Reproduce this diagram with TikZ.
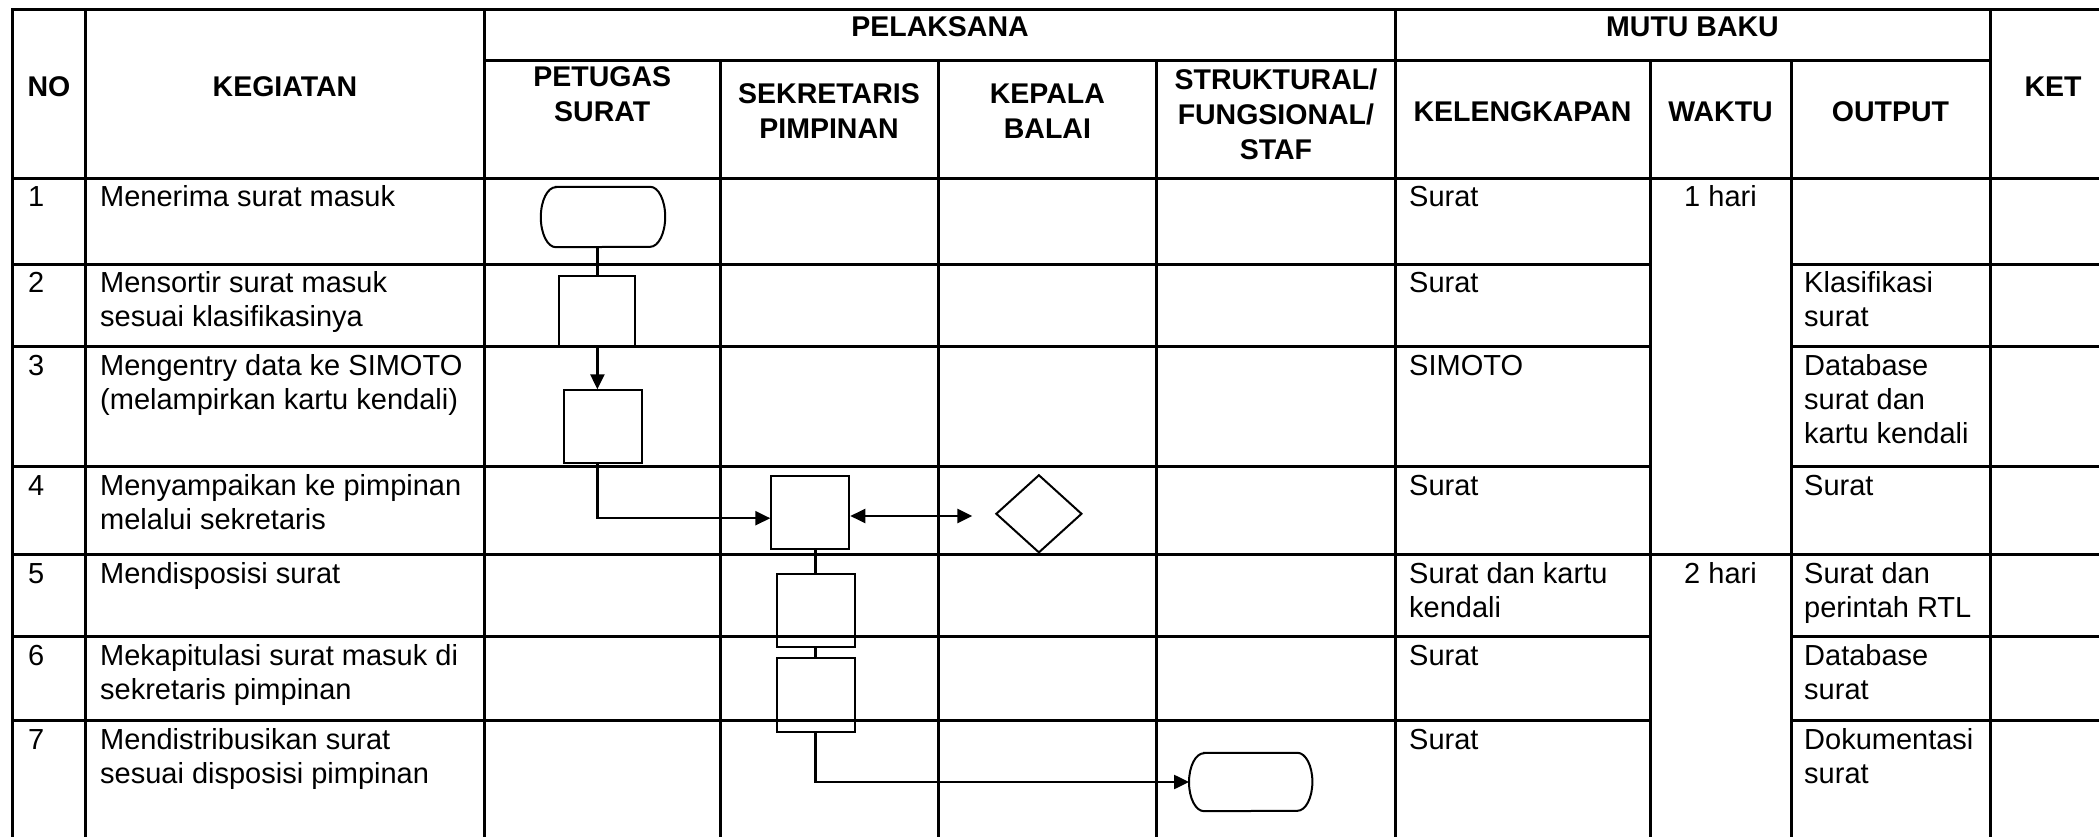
\documentclass[tikz,border=0pt]{standalone}
\usepackage{fontspec}
\setmainfont{Liberation Sans}
\usetikzlibrary{arrows.meta,shapes.geometric}
\newcommand\rowtxt[1]{\begin{tabular}[t]{@{}l@{}}#1\end{tabular}}
\newcommand\headtxt[1]{\begin{tabular}[t]{@{}c@{}}#1\end{tabular}}
\newcommand\drawterm[2]{%
  \draw[shapeline] ([xshift=15pt]#1.north west) -- ([xshift=-15pt]#1.north east)
    arc[start angle=90,end angle=-90,x radius=15pt,y radius=#2]
    -- ([xshift=15pt]#1.south west)
    arc[start angle=270,end angle=90,x radius=15pt,y radius=#2] -- cycle;}
\tikzset{
  grid/.style={line width=3pt, line cap=rect},
  shapeline/.style={line width=2pt},
  proc/.style={draw, shapeline, rectangle, minimum width=78pt, minimum height=73pt, inner sep=0pt},
  dec/.style={draw, shapeline, diamond, minimum width=86pt, minimum height=78pt, inner sep=0pt},
  term/.style={rectangle, inner sep=0pt},
  conn/.style={line width=2.5pt},
  arr/.style={conn, -{Triangle[length=15pt,width=14pt]}},
  darr/.style={conn, {Triangle[length=15pt,width=14pt]}-{Triangle[length=15pt,width=14pt]}},
  body/.style={font=\fontsize{29}{34}\selectfont, inner sep=0pt, anchor=base west},
  bodyc/.style={font=\fontsize{29}{34}\selectfont, inner sep=0pt, anchor=base},
  head/.style={font=\bfseries\fontsize{28.5}{35}\selectfont, inner sep=0pt, anchor=base},
}
\begin{document}
\begin{tikzpicture}[x=1pt,y=1pt]
\useasboundingbox (0,0) rectangle (2099,836);
\fill[white] (0,0) rectangle (2099,836);
% ---------- table grid ----------
\begin{scope}
\clip (0,0) rectangle (2099,836);
\draw[grid] (12.5,826) -- (2130,826);
\draw[grid] (484.4,775) -- (1990,775);
\draw[grid] (12.5,657.7) -- (2130,657.7);
\foreach \yy in {571.7,489,369.4,199.5,115.5} {
  \draw[grid] (12.5,\yy) -- (1650,\yy);
  \draw[grid] (1791,\yy) -- (2130,\yy);
}
\draw[grid] (12.5,281.4) -- (2130,281.4);
\foreach \xx in {12.5,85.7,484.4,1395,1990} \draw[grid] (\xx,826) -- (\xx,-10);
\foreach \xx in {720,938,1156.7,1650,1791} \draw[grid] (\xx,775) -- (\xx,-10);
\end{scope}
% ---------- headers ----------
\node[head] (hpel) at (940,799.3) {PELAKSANA};
\node[head] (hmutu) at (1692.5,799.3) {MUTU BAKU};
\node[head] (hno) at (49,739.3) {NO};
\node[head] (hkeg) at (285,739.3) {KEGIATAN};
\node[head] (hpet) at (602.2,749.3) {\headtxt{PETUGAS\\SURAT}};
\node[head] (hsek) at (829,732.7) {\headtxt{SEKRETARIS\\PIMPINAN}};
\node[head] (hkep) at (1047.4,732.7) {\headtxt{KEPALA\\BALAI}};
\node[head] (hstr) at (1275.9,746.5) {\headtxt{STRUKTURAL/\\FUNGSIONAL/\\STAF}};
\node[head] (hkel) at (1522.5,714.3) {KELENGKAPAN};
\node[head] (hwak) at (1720.5,714.3) {WAKTU};
\node[head] (hout) at (1890.5,714.3) {OUTPUT};
\node[head] (hket) at (2053,739.3) {KET};
% ---------- rows ----------
\node[body] (n1) at (28,629) {1};
\node[body] (k1) at (100,629) {Menerima surat masuk};
\node[body] (l1) at (1409,629) {Surat};
\node[bodyc] (w1) at (1720.5,629) {1 hari};

\node[body] (n2) at (28,543) {2};
\node[body] (k2) at (100,543) {\rowtxt{Mensortir surat masuk\\sesuai klasifikasinya}};
\node[body] (l2) at (1409,543) {Surat};
\node[body] (o2) at (1804,543) {\rowtxt{Klasifikasi\\surat}};

\node[body] (n3) at (28,460.3) {3};
\node[body] (k3) at (100,460.3) {\rowtxt{Mengentry data ke SIMOTO\\(melampirkan kartu kendali)}};
\node[body] (l3) at (1409,460.3) {SIMOTO};
\node[body] (o3) at (1804,460.3) {\rowtxt{Database\\surat dan\\kartu kendali}};

\node[body] (n4) at (28,340.7) {4};
\node[body] (k4) at (100,340.7) {\rowtxt{Menyampaikan ke pimpinan\\melalui sekretaris}};
\node[body] (l4) at (1409,340.7) {Surat};
\node[body] (o4) at (1804,340.7) {Surat};

\node[body] (n5) at (28,252.7) {5};
\node[body] (k5) at (100,252.7) {Mendisposisi surat};
\node[body] (l5) at (1409,252.7) {\rowtxt{Surat dan kartu\\kendali}};
\node[bodyc] (w5) at (1720.5,252.7) {2 hari};
\node[body] (o5) at (1804,252.7) {\rowtxt{Surat dan\\perintah RTL}};

\node[body] (n6) at (28,170.8) {6};
\node[body] (k6) at (100,170.8) {\rowtxt{Mekapitulasi surat masuk di\\sekretaris pimpinan}};
\node[body] (l6) at (1409,170.8) {Surat};
\node[body] (o6) at (1804,170.8) {\rowtxt{Database\\surat}};

\node[body] (n7) at (28,86.8) {7};
\node[body] (k7) at (100,86.8) {\rowtxt{Mendistribusikan surat\\sesuai disposisi pimpinan}};
\node[body] (l7) at (1409,86.8) {Surat};
\node[body] (o7) at (1804,86.8) {\rowtxt{Dokumentasi\\surat}};
% ---------- flow shapes ----------
\node[term, minimum width=124pt, minimum height=60pt] (t1) at (603,619) {};
\drawterm{t1}{30pt}
\node[proc, minimum width=76pt, minimum height=71pt] (b2) at (597.4,524.5) {};
\node[proc] (b3) at (602.7,409.2) {};
\node[proc] (b4) at (810.3,323.8) {};
\node[dec] (d4) at (1038.9,322.2) {};
\node[proc] (b5) at (815.7,225.3) {};
\node[proc, minimum height=74pt] (b6) at (815.7,141.5) {};
\node[term, minimum width=123pt, minimum height=58pt] (t2) at (1250.7,54) {};
\drawterm{t2}{29pt}
% ---------- connectors ----------
\coordinate (dtip) at (972.3,320);
\draw[conn] (b2.north |- t1.south) -- (b2.north);
\draw[arr] (b2.south) -- (b2.south |- b3.north);
\draw[arr] (b3.south -| b2.south) |- ([yshift=-6pt]b4.west);
\draw[darr] (b4.east |- dtip) -- (dtip);
\draw[conn] (b4.south -| b5.north) -- (b5.north);
\draw[conn] (b5.south) -- (b6.north);
\draw[arr] (b6.south) |- (t2.west);
\end{tikzpicture}
\end{document}
